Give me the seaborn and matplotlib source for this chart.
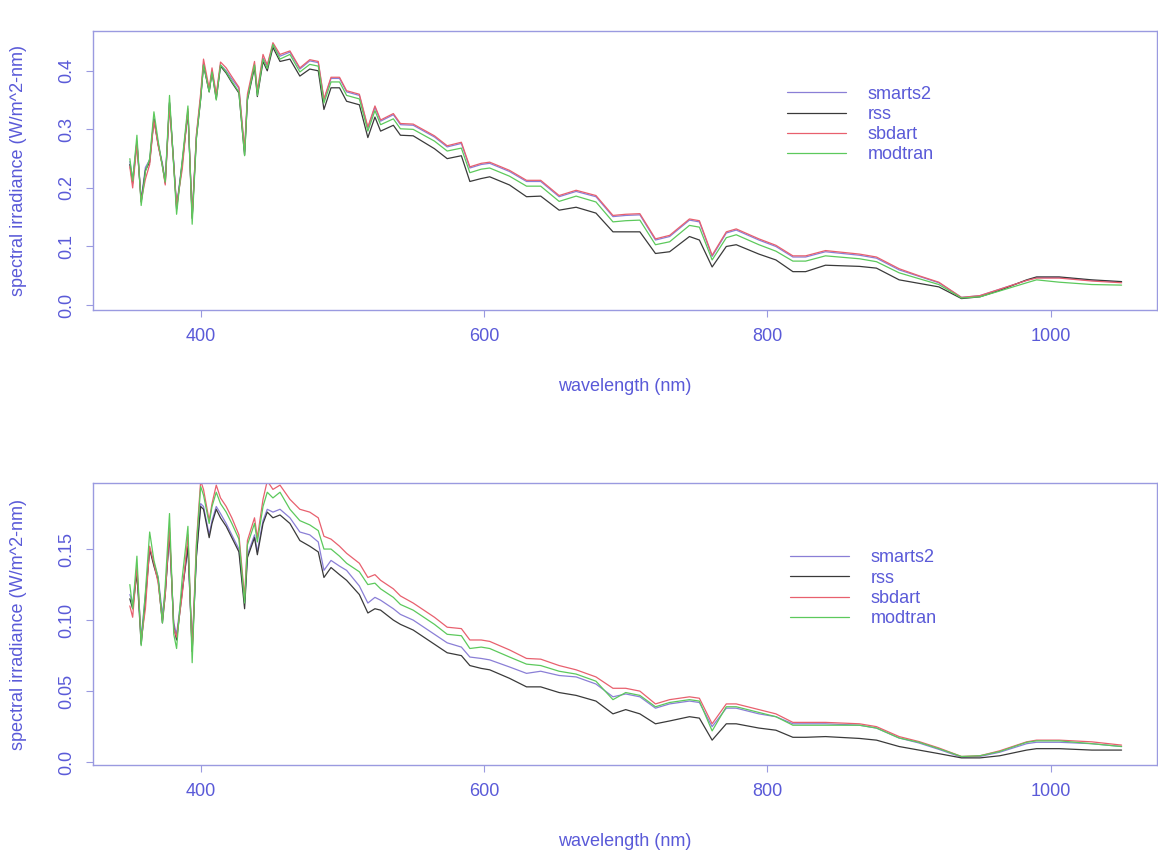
import matplotlib
matplotlib.use("Agg")
import matplotlib.pyplot as plt
import seaborn as sns
import pandas as pd


# wavelength grid (nm), shared by both panels
wavelength = [350, 352, 355, 358, 361, 364, 367, 370, 373, 375, 378, 381, 383, 387, 391,
              394, 397, 400, 402, 406, 408, 411, 414, 418, 422, 427, 431, 433, 438, 440,
              444, 447, 451, 456, 463, 470, 477, 483, 487, 492, 498, 503, 512, 518, 523,
              527, 536, 541, 550, 565, 574, 584, 590, 598, 604, 618, 630, 640, 653, 665,
              679, 691, 700, 710, 721, 731, 745, 752, 761, 771, 778, 794, 806, 818, 827,
              841, 865, 877, 893, 907, 921, 937, 950, 964, 983, 990, 1006, 1029, 1050]

models = ['smarts2', 'rss', 'sbdart', 'modtran']

# upper panel
smarts2_top = [0.245, 0.215, 0.280, 0.180, 0.235, 0.248, 0.318, 0.275, 0.242, 0.212, 0.345, 0.242, 0.168, 0.245, 0.330,
               0.152, 0.290, 0.355, 0.412, 0.366, 0.400, 0.357, 0.410, 0.400, 0.386, 0.370, 0.262, 0.355, 0.410, 0.363,
               0.422, 0.408, 0.444, 0.425, 0.432,
               0.403, 0.417, 0.414, 0.350, 0.387, 0.387, 0.364, 0.358, 0.302, 0.338, 0.314, 0.325, 0.308, 0.307, 0.287,
               0.270, 0.276, 0.234, 0.240, 0.242, 0.228, 0.211, 0.211, 0.185, 0.194, 0.185, 0.151, 0.153, 0.154, 0.111,
               0.117, 0.145, 0.142, 0.083, 0.123, 0.128, 0.111, 0.100, 0.082, 0.082, 0.091, 0.085, 0.080, 0.060, 0.049,
               0.038, 0.013, 0.016, 0.027, 0.042, 0.047, 0.047, 0.042, 0.039]
rss_top = [0.240, 0.208, 0.278, 0.176, 0.230, 0.244, 0.318, 0.274, 0.238, 0.208, 0.346, 0.240, 0.164, 0.242, 0.330,
           0.148, 0.286, 0.352, 0.410, 0.364, 0.398, 0.352, 0.408, 0.396, 0.380, 0.362, 0.256, 0.350, 0.406, 0.356,
           0.416, 0.400, 0.440, 0.416, 0.420,
           0.391, 0.403, 0.400, 0.334, 0.371, 0.371, 0.348, 0.342, 0.286, 0.321, 0.297, 0.307, 0.290, 0.289, 0.267,
           0.250, 0.255, 0.211, 0.216, 0.219, 0.205, 0.185, 0.186, 0.162, 0.167, 0.157, 0.125, 0.125, 0.125, 0.088,
           0.091, 0.117, 0.111, 0.065, 0.100, 0.103, 0.087, 0.077, 0.057, 0.057, 0.068, 0.066, 0.063, 0.043, 0.037,
           0.031, 0.011, 0.014, 0.025, 0.043, 0.048, 0.048, 0.043, 0.040]
sbdart_top = [0.236, 0.200, 0.275, 0.178, 0.215, 0.240, 0.315, 0.272, 0.238, 0.205, 0.342, 0.238, 0.170, 0.232, 0.335,
              0.150, 0.292, 0.362, 0.420, 0.370, 0.405, 0.360, 0.415, 0.405, 0.390, 0.372, 0.265, 0.360, 0.416, 0.366,
              0.428, 0.410, 0.448, 0.428, 0.434,
              0.405, 0.419, 0.416, 0.352, 0.389, 0.389, 0.366, 0.360, 0.304, 0.340, 0.316, 0.327, 0.310, 0.309, 0.289,
              0.272, 0.278, 0.236, 0.242, 0.244, 0.230, 0.213, 0.213, 0.187, 0.196, 0.187, 0.153, 0.155, 0.156, 0.113,
              0.119, 0.147, 0.144, 0.085, 0.125, 0.130, 0.113, 0.102, 0.084, 0.084, 0.093, 0.087, 0.082, 0.062, 0.050,
              0.039, 0.013, 0.016, 0.027, 0.042, 0.046, 0.046, 0.041, 0.038]
modtran_top = [0.250, 0.212, 0.290, 0.170, 0.228, 0.250, 0.330, 0.280, 0.236, 0.210, 0.358, 0.236, 0.155, 0.248, 0.340,
               0.138, 0.285, 0.352, 0.410, 0.364, 0.398, 0.350, 0.410, 0.398, 0.382, 0.364, 0.255, 0.352, 0.410, 0.358,
               0.420, 0.404, 0.445, 0.420, 0.428,
               0.398, 0.411, 0.408, 0.345, 0.381, 0.381, 0.358, 0.352, 0.297, 0.332, 0.308, 0.318, 0.301, 0.300, 0.280,
               0.263, 0.268, 0.226, 0.232, 0.234, 0.220, 0.203, 0.203, 0.177, 0.186, 0.176, 0.142, 0.144, 0.145, 0.103,
               0.108, 0.136, 0.133, 0.077, 0.115, 0.120, 0.103, 0.092, 0.075, 0.075, 0.084, 0.079, 0.074, 0.055, 0.045,
               0.035, 0.012, 0.014, 0.024, 0.038, 0.043, 0.039, 0.035, 0.034]

# lower panel
smarts2_bot = [0.118, 0.112, 0.135, 0.088, 0.118, 0.150, 0.140, 0.130, 0.104, 0.120, 0.160, 0.098, 0.090, 0.122, 0.150,
               0.082, 0.145, 0.182, 0.180, 0.160, 0.170, 0.180, 0.175, 0.168, 0.160, 0.150, 0.112, 0.146, 0.160, 0.148,
               0.170, 0.178, 0.176, 0.178, 0.172,
               0.162, 0.160, 0.155, 0.135, 0.142, 0.138, 0.135, 0.124, 0.112, 0.116, 0.114, 0.108, 0.104, 0.100, 0.090,
               0.084, 0.081, 0.074, 0.073, 0.072, 0.067, 0.0625, 0.064, 0.061, 0.060, 0.055, 0.046, 0.048, 0.046, 0.038,
               0.041, 0.043, 0.042, 0.025, 0.038, 0.038, 0.034, 0.032, 0.027, 0.027, 0.027, 0.026, 0.024, 0.017, 0.0135,
               0.009, 0.0035, 0.004, 0.007, 0.013, 0.014, 0.014, 0.013, 0.011]
rss_bot = [0.115, 0.108, 0.133, 0.083, 0.114, 0.150, 0.138, 0.128, 0.098, 0.118, 0.162, 0.095, 0.086, 0.120, 0.152,
           0.078, 0.145, 0.180, 0.178, 0.158, 0.168, 0.178, 0.172, 0.166, 0.158, 0.148, 0.108, 0.144, 0.158, 0.146,
           0.168, 0.176, 0.172, 0.174, 0.168,
           0.156, 0.152, 0.148, 0.130, 0.137, 0.132, 0.128, 0.118, 0.105, 0.108, 0.107, 0.100, 0.097, 0.093, 0.083,
           0.077, 0.075, 0.068, 0.066, 0.065, 0.059, 0.053, 0.053, 0.049, 0.047, 0.043, 0.034, 0.037, 0.034, 0.027,
           0.029, 0.032, 0.031, 0.0155, 0.027, 0.027, 0.024, 0.0225, 0.0175, 0.0175, 0.018, 0.0167, 0.0155, 0.011, 0.0085,
           0.006, 0.003, 0.003, 0.0045, 0.0085, 0.0095, 0.0095, 0.0085, 0.0085]
sbdart_bot = [0.110, 0.102, 0.138, 0.086, 0.108, 0.152, 0.140, 0.126, 0.100, 0.118, 0.165, 0.094, 0.088, 0.118, 0.160,
              0.078, 0.155, 0.198, 0.192, 0.170, 0.182, 0.195, 0.186, 0.180, 0.172, 0.160, 0.116, 0.156, 0.172, 0.158,
              0.185, 0.198, 0.192, 0.195, 0.185,
              0.178, 0.176, 0.172, 0.159, 0.157, 0.152, 0.147, 0.140, 0.130, 0.132, 0.128, 0.122, 0.117, 0.112, 0.102,
              0.095, 0.094, 0.086, 0.086, 0.085, 0.079, 0.073, 0.0725, 0.068, 0.065, 0.060, 0.052, 0.052, 0.050, 0.041,
              0.044, 0.046, 0.045, 0.027, 0.041, 0.041, 0.037, 0.034, 0.028, 0.028, 0.028, 0.027, 0.025, 0.018, 0.0145,
              0.010, 0.004, 0.0045, 0.008, 0.0143, 0.0155, 0.0155, 0.0143, 0.012]
modtran_bot = [0.125, 0.108, 0.145, 0.082, 0.120, 0.162, 0.142, 0.130, 0.098, 0.125, 0.175, 0.090, 0.080, 0.130, 0.166,
               0.070, 0.152, 0.194, 0.188, 0.168, 0.180, 0.190, 0.182, 0.176, 0.168, 0.157, 0.112, 0.153, 0.168, 0.155,
               0.180, 0.190, 0.186, 0.190, 0.178,
               0.170, 0.167, 0.163, 0.150, 0.150, 0.145, 0.140, 0.134, 0.125, 0.126, 0.122, 0.116, 0.111, 0.107, 0.097,
               0.090, 0.089, 0.080, 0.081, 0.080, 0.074, 0.069, 0.068, 0.064, 0.062, 0.057, 0.044, 0.049, 0.047, 0.039,
               0.042, 0.044, 0.043, 0.022, 0.039, 0.039, 0.035, 0.032, 0.026, 0.026, 0.026, 0.026, 0.024, 0.017, 0.014,
               0.0095, 0.004, 0.0045, 0.0075, 0.014, 0.015, 0.015, 0.013, 0.011]

top_yticks = [0.0, 0.1, 0.2, 0.3, 0.4]
top_yticklabels = ['0.0', '0.1', '0.2', '0.3', '0.4']
bot_yticks = [0.0, 0.05, 0.10, 0.15]
bot_yticklabels = ['0.0', '0.05', '0.10', '0.15']
xticks = [400, 600, 800, 1000]

palette = {'smarts2': '#8a7fd6', 'rss': '#3a3a3a', 'sbdart': '#e8606e', 'modtran': '#5cc95c'}
text_col = '#5a5ad8'
axis_col = '#9a9ae0'


def to_long(series):
    frames = []
    for name, vals in zip(models, series):
        frames.append(pd.DataFrame({'wavelength': wavelength, 'irradiance': vals, 'model': name}))
    return pd.concat(frames, ignore_index=True)


top_df = to_long([smarts2_top, rss_top, sbdart_top, modtran_top])
bot_df = to_long([smarts2_bot, rss_bot, sbdart_bot, modtran_bot])

sns.set_style('white')
plt.rcParams['font.family'] = ['Liberation Sans', 'DejaVu Sans']

fig = plt.figure(figsize=(11.58, 8.57), dpi=100)
ax_top = fig.add_axes([93 / 1158, 1 - 310 / 857, 1064 / 1158, 279 / 857])
ax_bot = fig.add_axes([93 / 1158, 1 - 765 / 857, 1064 / 1158, 282 / 857])

panels = [
    (ax_top, top_df, (-0.0085, 0.468), top_yticks, top_yticklabels, (0.645, 0.83)),
    (ax_bot, bot_df, (-0.002, 0.1965), bot_yticks, bot_yticklabels, (0.648, 0.79)),
]

for ax, df, ylim, yt, ytl, leg_pos in panels:
    sns.lineplot(data=df, x='wavelength', y='irradiance', hue='model', hue_order=models,
                 palette=palette, linewidth=0.9, sort=False, estimator=None, ax=ax)
    ax.set_xlim(324, 1075)
    ax.set_ylim(*ylim)
    ax.set_xticks(xticks)
    ax.set_xticklabels([str(t) for t in xticks])
    ax.set_yticks(yt)
    ax.set_yticklabels(ytl, rotation=90, va='center')
    ax.tick_params(axis='both', colors=axis_col, labelcolor=text_col, labelsize=13,
                   direction='out', length=5, width=0.8, left=True, bottom=True)
    ax.tick_params(axis='x', pad=8)
    ax.tick_params(axis='y', pad=8)
    for sp in ax.spines.values():
        sp.set_color(axis_col)
        sp.set_linewidth(1.0)
    ax.set_xlabel('wavelength (nm)', color=text_col, fontsize=13, labelpad=24)
    ax.set_ylabel('spectral irradiance (W/m^2-nm)', color=text_col, fontsize=13, labelpad=22)

    handles, labels = ax.get_legend_handles_labels()
    leg = ax.legend(handles, labels, loc='upper left', bbox_to_anchor=leg_pos, frameon=False,
                    fontsize=13, handlelength=3.3, handletextpad=1.2, labelspacing=0.18,
                    borderaxespad=0)
    for t in leg.get_texts():
        t.set_color(text_col)

fig.savefig('out.png', dpi=100, facecolor='white')
